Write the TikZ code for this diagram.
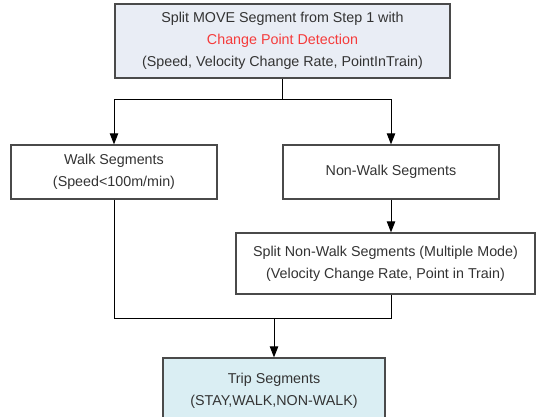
\documentclass[tikz,border=0pt]{standalone}
\usepackage{fontspec}
\setmainfont{Liberation Sans}
\usetikzlibrary{arrows.meta}

\definecolor{boxline}{HTML}{4A4A4A}
\definecolor{textgray}{HTML}{333333}
\definecolor{topfill}{HTML}{E9EDF5}
\definecolor{tripfill}{HTML}{DAEEF3}
\definecolor{hilite}{HTML}{F53B3B}

\tikzset{
  stagebox/.style={draw=boxline, line width=1.4pt, fill=white, align=center,
    text=textgray, inner sep=0pt, font=\fontsize{14.3}{22}\selectfont},
  link/.style={line width=0.9pt, black}
}

\begin{document}
\begin{tikzpicture}[x=1pt,y=-1pt,>={Triangle[length=11pt,width=8.5pt]}]
      \useasboundingbox (0,0) rectangle (536,416);
      % boxes
      \node [stagebox, fill=topfill, minimum width=335pt, minimum height=74pt]
            (split1) at (282.5,41) {Split MOVE Segment from Step 1 with\\
            \textcolor{hilite}{Change Point Detection}\\
            (Speed, Velocity Change Rate, PointInTrain)};
      \node [stagebox, minimum width=206pt, minimum height=54pt] (walk)
            at (114,172) {Walk Segments\\(Speed<100m/min)};
      \node [stagebox, minimum width=216pt, minimum height=54pt] (nonwalk)
            at (391,172) {Non-Walk Segments};
      \node [stagebox, minimum width=299pt, minimum height=61pt] (split2)
            at (385.5,263.5) {Split Non-Walk Segments (Multiple Mode)\\
            (Velocity Change Rate, Point in Train)};
      \node [stagebox, fill=tripfill, minimum width=222pt, minimum height=66pt]
            (trip) at (274,391) {Trip Segments\\(STAY,WALK,NON-WALK)};
      % connectors
      \coordinate (fork) at (split1.south |- 0,99);
      \coordinate (join) at (trip.north |- 0,318);
      \draw [link] (split1.south) -- (fork);
      \draw [link,->] (fork) -| (walk.north);
      \draw [link,->] (fork) -| (nonwalk.north);
      \draw [link,->] (nonwalk.south) -- (nonwalk.south |- split2.north);
      \draw [link] (walk.south) |- (join);
      \draw [link] (nonwalk.south |- split2.south) |- (join);
      \draw [link,->] (join) -- (trip.north);
    \end{tikzpicture}
\end{document}
